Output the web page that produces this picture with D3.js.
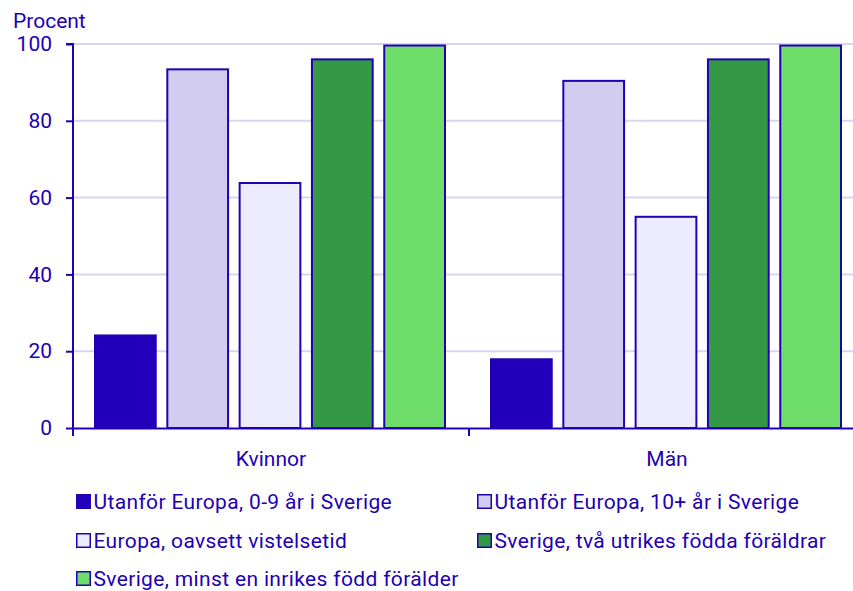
<!DOCTYPE html>
<html><head><meta charset="utf-8">
<script src="https://cdn.jsdelivr.net/npm/d3@7/dist/d3.min.js"></script>
<style>
body{margin:0;background:#fff;}
text{font-family:Roboto,"Noto Sans",sans-serif;fill:#2200B4;}
</style></head>
<body><svg id="c" width="853" height="591"></svg>
<script>
const categories = ["Kvinnor", "Män"];
const seriesNames = [
  "Utanför Europa, 0-9 år i Sverige",
  "Utanför Europa, 10+ år i Sverige",
  "Europa, oavsett vistelsetid",
  "Sverige, två utrikes födda föräldrar",
  "Sverige, minst en inrikes född förälder"
];
const seriesColors = ["#2200BB", "#D2CCF0", "#EDEBFE", "#339944", "#6FDD6A"];
const kvinnorValues = [24.1, 93.4, 63.8, 96.0, 99.6];
const manValues = [17.9, 90.4, 55.0, 96.0, 99.6];
const yTicks = [0, 20, 40, 60, 80, 100];
const yLabel = "Procent";

const values = [kvinnorValues, manValues];
const svg = d3.select("#c");
const ink = "#2200B4";
const m = {left: 73, right: 865, top: 44, bottom: 428};

const x0 = d3.scaleBand().domain(categories).range([m.left, m.right]).paddingInner(0).paddingOuter(0);
const x1 = d3.scaleBand().domain(d3.range(seriesNames.length)).range([22, x0.bandwidth() - 24]).paddingInner(0.16);
const y = d3.scaleLinear().domain([0, 100]).range([m.bottom, m.top]);

// gridlines
svg.append("g").selectAll("line").data(yTicks.filter(d => d > 0)).join("line")
  .attr("x1", m.left).attr("x2", 853).attr("y1", d => y(d)).attr("y2", d => y(d))
  .attr("stroke", "#D8D5F4").attr("stroke-width", 2);

// bars
const g = svg.append("g").selectAll("g").data(categories).join("g")
  .attr("transform", d => `translate(${x0(d)},0)`);
g.selectAll("rect").data((c, i) => values[i].map((v, j) => ({v, j}))).join("rect")
  .attr("x", d => x1(d.j)).attr("width", x1.bandwidth())
  .attr("y", d => y(d.v)).attr("height", d => y(0) - y(d.v))
  .attr("fill", d => seriesColors[d.j]).attr("stroke", ink).attr("stroke-width", 2);

// y axis
const yAxis = d3.axisLeft(y).tickValues(yTicks).tickSize(7).tickPadding(14).tickFormat(d3.format("d"));
const ya = svg.append("g").attr("transform", `translate(${m.left},0)`).call(yAxis);
ya.select(".domain").attr("stroke", ink).attr("stroke-width", 2).attr("d", `M-7,${m.top}H0V${m.bottom}`);
ya.selectAll(".tick line").attr("stroke", ink).attr("stroke-width", 2);
ya.selectAll(".tick text").attr("fill", ink).style("font-size", "21px").style("font-family", "Roboto");

// x axis
const xa = svg.append("g").attr("transform", `translate(0,${m.bottom})`)
  .call(d3.axisBottom(x0).tickSize(0).tickPadding(22));
xa.select(".domain").attr("stroke", ink).attr("stroke-width", 2);
xa.selectAll(".tick text").attr("fill", ink).attr("dy", null).attr("y", 38)
  .style("font-size", "21px").style("font-family", "Roboto");
// group boundary ticks
svg.append("g").selectAll("line").data([m.left, x0(categories[1])]).join("line")
  .attr("x1", d => d).attr("x2", d => d).attr("y1", m.bottom).attr("y2", m.bottom + 8)
  .attr("stroke", ink).attr("stroke-width", 2);

// y label
svg.append("text").attr("x", 13).attr("y", 28).style("font-size", "21px").text(yLabel);

// legend
const legPos = [[76, 509], [477, 509], [76, 548], [477, 548], [76, 586]];
const lg = svg.append("g").selectAll("g").data(seriesNames).join("g")
  .attr("transform", (d, i) => `translate(${legPos[i][0]},${legPos[i][1]})`);
lg.append("rect").attr("x", 0.75).attr("y", -14.25).attr("width", 13.5).attr("height", 13.5)
  .attr("fill", (d, i) => seriesColors[i]).attr("stroke", ink).attr("stroke-width", 1.5);
lg.append("text").attr("x", 17.5).style("font-size", "21px").style("letter-spacing", "0.35px")
  .text(d => d);
</script></body></html>
